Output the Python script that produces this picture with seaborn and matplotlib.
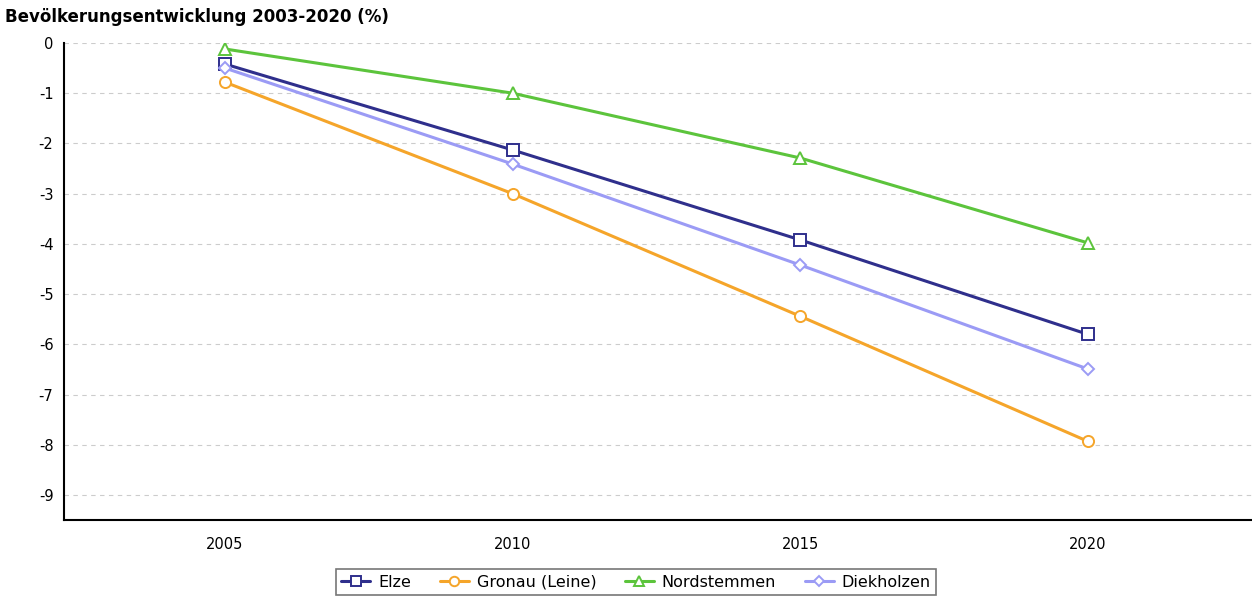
import pandas as pd
import seaborn as sns
import matplotlib.pyplot as plt

# values
years = [2005, 2010, 2015, 2020]
elze = [-0.42, -2.13, -3.92, -5.80]
gronau = [-0.78, -3.00, -5.44, -7.93]
nordstemmen = [-0.12, -1.00, -2.29, -3.98]
diekholzen = [-0.50, -2.41, -4.42, -6.49]

names = ['Elze', 'Gronau (Leine)', 'Nordstemmen', 'Diekholzen']
colors = ['#2f2f8c', '#f5a52a', '#5cc43c', '#9b9bf5']
markers = ['s', 'o', '^', 'D']
marker_sizes = [8, 8, 8, 6]

df = pd.DataFrame({
    'year': years * 4,
    'value': elze + gronau + nordstemmen + diekholzen,
    'name': [n for n in names for _ in years],
})

sns.set_style('white')
plt.rcParams['font.family'] = ['DejaVu Sans']
plt.rcParams['axes.unicode_minus'] = False
plt.rcParams['text.color'] = 'black'

fig = plt.figure(figsize=(12.52, 6.05), dpi=100)
ax = fig.add_axes([0.051, 0.14, 0.949, 0.789])

# draw each series so marker size can differ (diamond is smaller)
for name, col, mk, ms in zip(names, colors, markers, marker_sizes):
    sub = df[df['name'] == name]
    sns.lineplot(data=sub, x='year', y='value', color=col, marker=mk,
                 markersize=ms, markerfacecolor='white', markeredgecolor=col,
                 markeredgewidth=1.4, linewidth=2.2, label=name, ax=ax)

ax.set_xlim(2002.2, 2022.85)
ax.set_ylim(-9.5, 0)
ax.set_xticks(years)
ax.set_yticks(range(0, -10, -1))
ax.set_xlabel('')
ax.set_ylabel('')

ax.yaxis.grid(True, linestyle=(0, (4, 4)), color='#cccccc', linewidth=0.8)
ax.xaxis.grid(False)
for side in ['top', 'right']:
    ax.spines[side].set_visible(False)
for side in ['left', 'bottom']:
    ax.spines[side].set_color('black')
    ax.spines[side].set_linewidth(1.5)
ax.tick_params(axis='both', direction='out', length=4, width=1, labelsize=10.5,
               colors='black', labelcolor='black')
ax.tick_params(axis='x', pad=8)

fig.text(0.004, 0.972, 'Bevölkerungsentwicklung 2003-2020 (%)', fontsize=12,
         fontweight='bold', ha='left', va='center', color='black')

handles, labels = ax.get_legend_handles_labels()
ax.get_legend().remove()
leg = fig.legend(handles, labels, loc='center', bbox_to_anchor=(0.508, 0.038), ncol=4,
                 frameon=True, fancybox=False, fontsize=11.5, handlelength=1.8,
                 handletextpad=0.5, columnspacing=1.8, borderpad=0.35, markerscale=0.85)
leg.get_frame().set_edgecolor('#555555')
leg.get_frame().set_linewidth(1.2)
for t in leg.get_texts():
    t.set_color('black')

plt.savefig('out.png', dpi=100)
